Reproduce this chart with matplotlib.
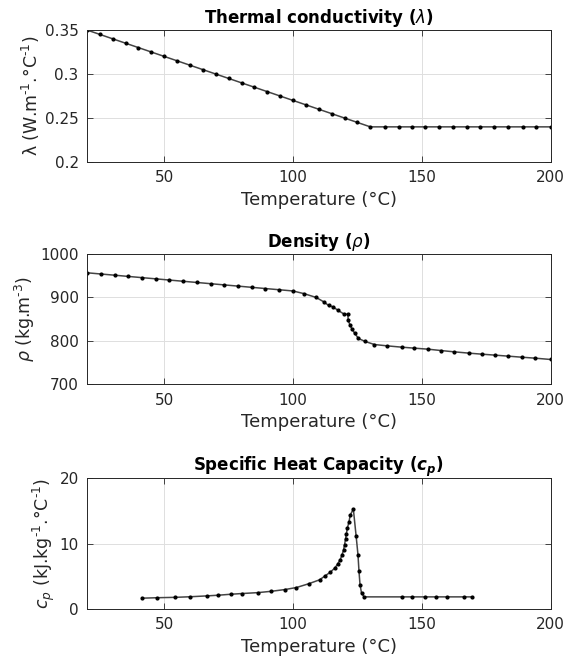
import matplotlib
matplotlib.use('Agg')
import matplotlib.pyplot as plt

plt.rcParams['font.family'] = ['DejaVu Sans']
plt.rcParams['mathtext.fontset'] = 'custom'
plt.rcParams['mathtext.rm'] = 'DejaVu Sans'
plt.rcParams['mathtext.it'] = 'DejaVu Sans:italic'
plt.rcParams['mathtext.bf'] = 'DejaVu Sans:bold'
plt.rcParams['mathtext.bfit'] = 'DejaVu Sans:italic:bold'

# thermal conductivity
t_lambda = [20, 25, 30, 35, 40, 45, 50, 55, 60, 65, 70, 75, 80, 85, 90, 95, 100,
            105, 110, 115, 120, 125, 130, 135.7, 141, 146.2, 151.3, 156.6, 162,
            167.4, 172.5, 177.9, 183.5, 189.2, 194.5, 200]
lam = [0.350, 0.345, 0.340, 0.335, 0.330, 0.325, 0.320, 0.315, 0.310, 0.305,
       0.300, 0.295, 0.290, 0.285, 0.280, 0.275, 0.270, 0.265, 0.260, 0.255,
       0.250, 0.245, 0.240, 0.240, 0.240, 0.240, 0.240, 0.240, 0.240, 0.240,
       0.240, 0.240, 0.240, 0.240, 0.240, 0.240]

# density
t_rho = [20, 25.3, 30.7, 36, 41.3, 46.7, 52, 57.3, 62.7, 68, 73.3, 78.7, 84,
         89.3, 94.7, 100, 104.4, 109, 111.9, 113.8, 115.5, 117.3, 119.6, 121.3,
         121.4, 122.2, 122.9, 123.9, 125.4, 128, 131.6, 136.4, 142.2, 147.1,
         152.3, 157.5, 162.6, 168.3, 173.2, 178.4, 183.5, 188.7, 194, 200]
rho = [957, 954.2, 951.4, 948.6, 945.8, 943, 940.2, 937.4, 934.6, 931.8, 929,
       926.2, 923.4, 920.6, 917.8, 915, 908.6, 900, 890, 881.6, 878.5, 870.9,
       862.4, 860.8, 847, 835.4, 827, 817.7, 805.4, 798.5, 791.5, 788.5, 785.4,
       783.1, 780.8, 777.6, 774.6, 771.6, 769.3, 767, 764.7, 762.3, 760, 757]

# specific heat capacity
t_cp = [41.3, 47.1, 54.3, 60.1, 66.5, 70.8, 75.8, 80.1, 86.3, 91.5, 96.8, 101.3,
        106, 110.3, 112.5, 114.5, 116.2, 117.3, 118.3, 119, 119.6, 120, 120.4,
        120.7, 121.1, 121.7, 122.2, 123.4, 124.5, 125.2, 125.6, 126, 126.6,
        127.6, 142.2, 146.1, 151.3, 155.5, 159.7, 166.5, 169.4]
cp = [1.65, 1.72, 1.78, 1.87, 2.0, 2.1, 2.25, 2.36, 2.5, 2.7, 2.97, 3.28,
      3.85, 4.46, 5.08, 5.64, 6.26, 6.87, 7.54, 8.26, 9.03, 9.85, 10.77,
      11.5, 12.4, 13.3, 14.36, 15.3, 11.1, 8.3, 5.74, 3.7, 2.4, 1.85,
      1.85, 1.85, 1.85, 1.85, 1.85, 1.85, 1.85]

hy = '\u2010'  # short hyphen in the exponents, like the original
panels = [
    (t_lambda, lam, r'Thermal conductivity ($\lambda$)',
     'λ (W.m$^{' + hy + '1}$.°C$^{' + hy + '1}$)',
     (0.2, 0.35), [0.2, 0.25, 0.3, 0.35], ['0.2', '0.25', '0.3', '0.35']),
    (t_rho, rho, r'Density ($\rho$)', r'$\rho$ (kg.m$^{' + hy + '3}$)',
     (700, 1000), [700, 800, 900, 1000], ['700', '800', '900', '1000']),
    (t_cp, cp, r'Specific Heat Capacity ($\mathbfit{c_p}$)',
     '$c_p$ (kJ.kg$^{' + hy + '1}$.°C$^{' + hy + '1}$)',
     (0, 20), [0, 10, 20], ['0', '10', '20']),
]
boxes = [[0.151, 0.757, 0.805, 0.198],
         [0.151, 0.424, 0.805, 0.195],
         [0.151, 0.087, 0.805, 0.196]]

dark = '#262626'
fig = plt.figure(figsize=(5.76, 6.67), dpi=100)
for (x, y, title, ylabel, ylim, yticks, yticklabels), box in zip(panels, boxes):
    ax = fig.add_axes(box)
    ax.plot(x, y, '-', color='#444444', lw=1.1, marker='.', markersize=4,
            markerfacecolor='black', markeredgecolor='black')
    ax.set_xlim(20, 200)
    ax.set_ylim(*ylim)
    ax.set_xticks([50, 100, 150, 200])
    ax.set_yticks(yticks)
    ax.set_yticklabels(yticklabels)
    ax.grid(True, color='#dedede', lw=0.7)
    ax.set_axisbelow(True)
    ax.tick_params(direction='in', top=True, right=True, length=4, width=0.6,
                   colors=dark, labelsize=11, pad=6)
    for s in ax.spines.values():
        s.set_color(dark)
        s.set_linewidth(0.7)
    ax.set_title(title, fontsize=12, fontweight='bold', color='black', pad=5)
    ax.set_xlabel('Temperature (°C)', fontsize=13, color=dark, labelpad=4)
    ax.set_ylabel(ylabel, fontsize=12.5, color=dark, labelpad=2)

fig.savefig('out.png', dpi=100)
